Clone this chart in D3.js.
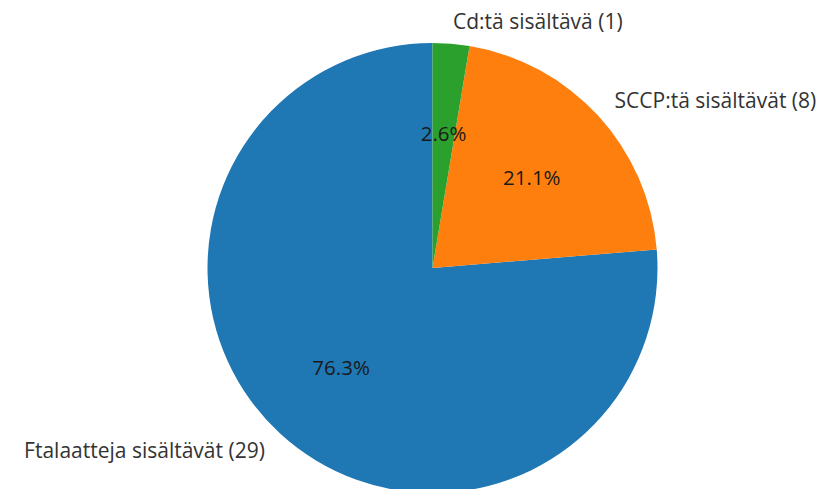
<!DOCTYPE html>
<html><head><meta charset="utf-8">
<script src="https://cdn.jsdelivr.net/npm/d3@7"></script>
<style>body{margin:0;background:#fff}svg{display:block}</style>
</head><body>
<script>
const categories = ["Ftalaatteja sisältävät (29)", "SCCP:tä sisältävät (8)", "Cd:tä sisältävä (1)"];
const values = [29, 8, 1];
const colors = ["#1f77b4", "#ff7f0e", "#2ca02c"];

const W = 821, H = 489, cx = 432.5, cy = 268, R = 225;
const svg = d3.select("body").append("svg").attr("width", W).attr("height", H);
const g = svg.append("g").attr("transform", `translate(${cx},${cy})`);

// matplotlib: startangle=90, counterclockwise → d3 angles run clockwise from top, so negate
const total = d3.sum(values);
const pie = d3.pie().sort(null).startAngle(0).endAngle(-2 * Math.PI);
const arcs = pie(values);
const arc = d3.arc().innerRadius(0).outerRadius(R);

g.selectAll("path").data(arcs).join("path")
  .attr("d", arc).attr("fill", (d, i) => colors[i]);

const fmt = v => (v / total * 100).toFixed(1) + "%";
arcs.forEach((d, i) => {
  const mid = (d.startAngle + d.endAngle) / 2;
  const sx = Math.sin(mid), sy = -Math.cos(mid);
  g.append("text")
    .attr("x", sx * R * 1.1).attr("y", sy * R * 1.1)
    .attr("text-anchor", sx > 0 ? "start" : "end")
    .attr("dominant-baseline", "central")
    .attr("font-family", "Open Sans, sans-serif").attr("font-size", 21)
    .attr("fill", "#333").text(categories[i]);
  g.append("text")
    .attr("x", sx * R * 0.6).attr("y", sy * R * 0.6)
    .attr("text-anchor", "middle")
    .attr("dominant-baseline", "central")
    .attr("font-family", "Open Sans, sans-serif").attr("font-size", 20.5)
    .attr("fill", "#1a1a1a").text(fmt(values[i]));
});
</script>
</body></html>
